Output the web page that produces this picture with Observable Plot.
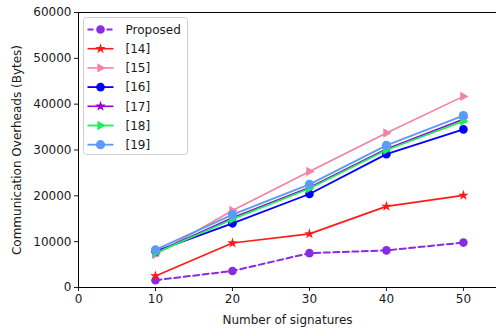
<!DOCTYPE html>
<html>
<head>
<meta charset="utf-8">
<script src="https://cdn.jsdelivr.net/npm/d3@7"></script>
<script src="https://cdn.jsdelivr.net/npm/@observablehq/plot@0.6"></script>
<style>
  html, body { margin: 0; padding: 0; background: #fff; }
  #chart svg { display: block; }
</style>
</head>
<body>
<div id="chart"></div>
<script>
// ---- data ----
const signatures = [10, 20, 30, 40, 50];
const seriesNames = ["Proposed", "[14]", "[15]", "[16]", "[17]", "[18]", "[19]"];
const proposed = [1600, 3600, 7500, 8100, 9800];
const ref14 = [2500, 9700, 11700, 17700, 20100];
const ref15 = [7200, 16800, 25300, 33700, 41700];
const ref16 = [7900, 14000, 20400, 29100, 34500];
const ref17 = [7600, 15200, 21800, 30200, 36700];
const ref18 = [7500, 14900, 21600, 30000, 36300];
const ref19 = [8200, 15900, 22500, 31000, 37500];
const yTicks = [0, 10000, 20000, 30000, 40000, 50000, 60000];
const xTicks = [0, 10, 20, 30, 40, 50];

// ---- styles ----
const triangleRight = {
  draw(context, size) {
    const a = Math.sqrt(size / Math.PI) * 1.3;
    context.moveTo(a, 0);
    context.lineTo(-a * 0.6, a * 0.9);
    context.lineTo(-a * 0.6, -a * 0.9);
    context.closePath();
  }
};
const styles = {
  "Proposed": {color: "#8a2be2", symbol: "circle", r: 4.3, dash: "6,3.5", w: 2},
  "[14]": {color: "#ff1a1a", symbol: "star", r: 3.3, dash: null, w: 1.6},
  "[15]": {color: "#f7819f", symbol: triangleRight, r: 4.0, dash: null, w: 1.6},
  "[16]": {color: "#0000ff", symbol: "circle", r: 4.3, dash: null, w: 1.8},
  "[17]": {color: "#9400d3", symbol: "star", r: 3.3, dash: null, w: 1.6},
  "[18]": {color: "#1aef5a", symbol: triangleRight, r: 4.0, dash: null, w: 1.8},
  "[19]": {color: "#5b9bf7", symbol: "circle", r: 4.6, dash: null, w: 1.8}
};
const valuesBySeries = [proposed, ref14, ref15, ref16, ref17, ref18, ref19];

const rows = [];
seriesNames.forEach((s, i) => {
  signatures.forEach((x, j) => rows.push({series: s, x, y: valuesBySeries[i][j]}));
});

const marks = [];
seriesNames.forEach(s => {
  const st = styles[s];
  const d = rows.filter(r => r.series === s);
  marks.push(Plot.line(d, {x: "x", y: "y", stroke: st.color, strokeWidth: st.w,
    strokeDasharray: st.dash || undefined}));
  marks.push(Plot.dot(d, {x: "x", y: "y", fill: st.color, stroke: "none",
    symbol: () => st.symbol, r: st.r}));
});

const W = 496, H = 329;
const font = "DejaVu Sans, sans-serif";
const plot = Plot.plot({
  width: W,
  height: H,
  marginLeft: 78,
  marginRight: 0,
  marginTop: 12,
  marginBottom: 42,
  style: {fontFamily: font, fontSize: "12px", color: "#1a1a1a", background: "#fff"},
  x: {domain: [0, 54.3]},
  y: {domain: [0, 60000]},
  symbol: {type: "identity"},
  marks: [
    Plot.axisX({ticks: xTicks, tickSize: 4, tickPadding: 3, tickFormat: d3.format("d"),
      label: "Number of signatures", labelAnchor: "center", labelOffset: 36, labelArrow: "none",
      fontSize: 12}),
    Plot.axisY({ticks: yTicks, tickSize: 4, tickPadding: 3, tickFormat: d3.format("d"),
      label: "Communication Overheads (Bytes)", labelAnchor: "center", labelOffset: 66, labelArrow: "none",
      fontSize: 12}),
    ...marks,
    Plot.ruleY([0], {stroke: "#000", strokeWidth: 1}),
    Plot.ruleY([60000], {stroke: "#000", strokeWidth: 1}),
    Plot.ruleX([0], {stroke: "#000", strokeWidth: 1})
  ]
});

// ---- legend (inside the SVG, upper left) ----
const svg = d3.select(plot);
const lg = svg.append("g").attr("transform", "translate(83.5,17.5)")
  .attr("font-family", font).attr("font-size", 12).attr("text-anchor", "start");
const rowH = 19.2;
lg.append("rect").attr("width", 104).attr("height", 137).attr("rx", 3)
  .attr("fill", "#fff").attr("fill-opacity", 0.8).attr("stroke", "#d0d0d0");
seriesNames.forEach((s, i) => {
  const st = styles[s];
  const cy = 12 + i * rowH;
  lg.append("line").attr("x1", 4).attr("x2", 30).attr("y1", cy).attr("y2", cy)
    .attr("stroke", st.color).attr("stroke-width", st.w)
    .attr("stroke-dasharray", st.dash || null);
  const sym = typeof st.symbol === "string"
    ? (st.symbol === "star" ? d3.symbolStar : d3.symbolCircle) : st.symbol;
  lg.append("path").attr("transform", `translate(17,${cy})`)
    .attr("d", d3.symbol(sym, st.r * st.r * Math.PI)())
    .attr("fill", st.color);
  lg.append("text").attr("x", 42).attr("y", cy).attr("dy", "0.36em")
    .attr("text-anchor", "start")
    .attr("fill", "#1a1a1a").text(s);
});

document.getElementById("chart").appendChild(plot);
</script>
</body>
</html>
